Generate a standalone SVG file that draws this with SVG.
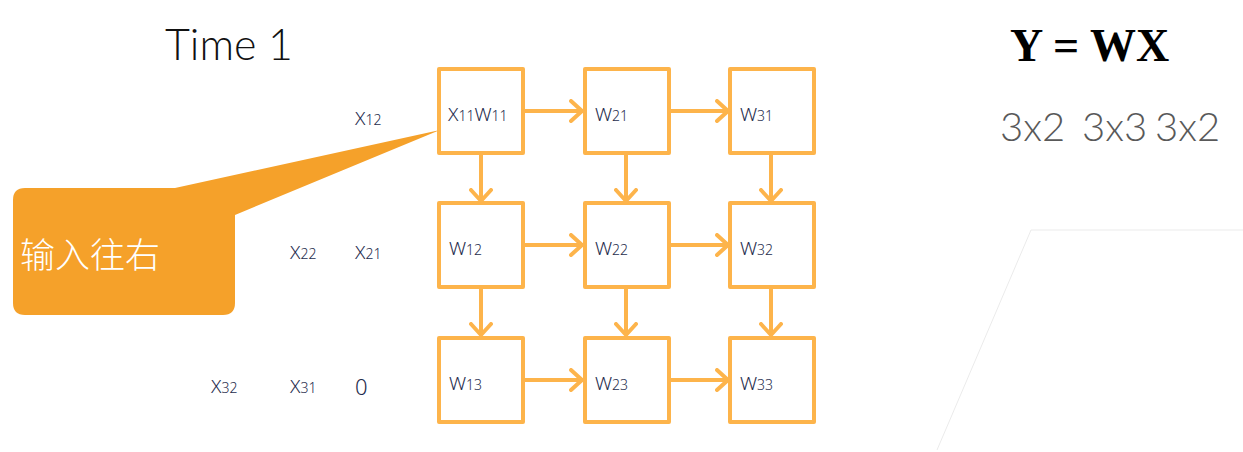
<svg xmlns="http://www.w3.org/2000/svg" width="1243" height="452" viewBox="0 0 1243 452">
<style>
.box{fill:#ffffff;stroke:#FDB44B;stroke-width:4;stroke-linejoin:round}
.conn{stroke:#FDB44B;stroke-width:4;fill:none}
.lbl{font-family:"Noto Sans","Open Sans",sans-serif;font-weight:300;font-size:19px;fill:#1F2D4D}
.sub{font-size:14px}
</style>
<defs>
<marker id="ah" markerWidth="16" markerHeight="24" refX="13" refY="12" orient="auto" markerUnits="userSpaceOnUse">
<path d="M2,2 L13,12 L2,22" fill="none" stroke="#FDB44B" stroke-width="4" stroke-linecap="round" stroke-linejoin="round"/>
</marker>
</defs>
<rect width="1243" height="452" fill="#ffffff"/>
<path d="M937,450 L1031,230 L1243,230" fill="none" stroke="#ebebeb" stroke-width="1"/>
<text x="165" y="60" font-family="Lato,'Open Sans',sans-serif" font-weight="300" font-size="43" fill="#111111">Time 1</text>
<text x="1010" y="61" font-family="'Liberation Serif',serif" font-weight="bold" font-size="46" fill="#000000">Y = WX</text>
<text y="141" font-family="Lato,'Open Sans',sans-serif" font-weight="300" font-size="40" fill="#595959"><tspan x="1000">3x2</tspan><tspan x="1082">3x3</tspan><tspan x="1155">3x2</tspan></text>
<g id="callout">
<path d="M25,188 L175,188 L440,130 L235,215 L235,303 Q235,315 223,315 L25,315 Q13,315 13,303 L13,200 Q13,188 25,188 Z" fill="#F5A12A"/>
<text x="20" y="268" font-family="'Noto Sans CJK SC',sans-serif" font-weight="300" font-size="35" fill="#ffffff">输入往右</text>
</g>
<g id="inputs">
<text class="lbl" x="355" y="125">X<tspan class="sub">12</tspan></text>
<text class="lbl" x="290" y="259">X<tspan class="sub">22</tspan></text>
<text class="lbl" x="355" y="259">X<tspan class="sub">21</tspan></text>
<text class="lbl" x="211" y="393">X<tspan class="sub">32</tspan></text>
<text class="lbl" x="290" y="393">X<tspan class="sub">31</tspan></text>
<text class="lbl" x="355" y="395" style="font-size:22px">0</text>
</g>
<g id="connectors">
<line class="conn" x1="523" y1="111" x2="582" y2="111" marker-end="url(#ah)"/>
<line class="conn" x1="669" y1="111" x2="728" y2="111" marker-end="url(#ah)"/>
<line class="conn" x1="523" y1="245" x2="582" y2="245" marker-end="url(#ah)"/>
<line class="conn" x1="669" y1="245" x2="728" y2="245" marker-end="url(#ah)"/>
<line class="conn" x1="523" y1="380" x2="582" y2="380" marker-end="url(#ah)"/>
<line class="conn" x1="669" y1="380" x2="728" y2="380" marker-end="url(#ah)"/>
<line class="conn" x1="481" y1="153" x2="481" y2="201" marker-end="url(#ah)"/>
<line class="conn" x1="626" y1="153" x2="626" y2="201" marker-end="url(#ah)"/>
<line class="conn" x1="771" y1="153" x2="771" y2="201" marker-end="url(#ah)"/>
<line class="conn" x1="481" y1="287" x2="481" y2="335" marker-end="url(#ah)"/>
<line class="conn" x1="626" y1="287" x2="626" y2="335" marker-end="url(#ah)"/>
<line class="conn" x1="771" y1="287" x2="771" y2="335" marker-end="url(#ah)"/>
</g>
<g id="n11"><rect class="box" x="439" y="69" width="84" height="84"/><text class="lbl" x="448" y="121">X<tspan class="sub">11</tspan>W<tspan class="sub">11</tspan></text></g>
<g id="n21"><rect class="box" x="585" y="69" width="84" height="84"/><text class="lbl" x="595" y="121">W<tspan class="sub">21</tspan></text></g>
<g id="n31"><rect class="box" x="730" y="69" width="84" height="84"/><text class="lbl" x="740" y="121">W<tspan class="sub">31</tspan></text></g>
<g id="n12"><rect class="box" x="439" y="203" width="84" height="84"/><text class="lbl" x="449" y="255">W<tspan class="sub">12</tspan></text></g>
<g id="n22"><rect class="box" x="585" y="203" width="84" height="84"/><text class="lbl" x="595" y="255">W<tspan class="sub">22</tspan></text></g>
<g id="n32"><rect class="box" x="730" y="203" width="84" height="84"/><text class="lbl" x="740" y="255">W<tspan class="sub">32</tspan></text></g>
<g id="n13"><rect class="box" x="439" y="338" width="84" height="84"/><text class="lbl" x="449" y="390">W<tspan class="sub">13</tspan></text></g>
<g id="n23"><rect class="box" x="585" y="338" width="84" height="84"/><text class="lbl" x="595" y="390">W<tspan class="sub">23</tspan></text></g>
<g id="n33"><rect class="box" x="730" y="338" width="84" height="84"/><text class="lbl" x="740" y="390">W<tspan class="sub">33</tspan></text></g>
</svg>
